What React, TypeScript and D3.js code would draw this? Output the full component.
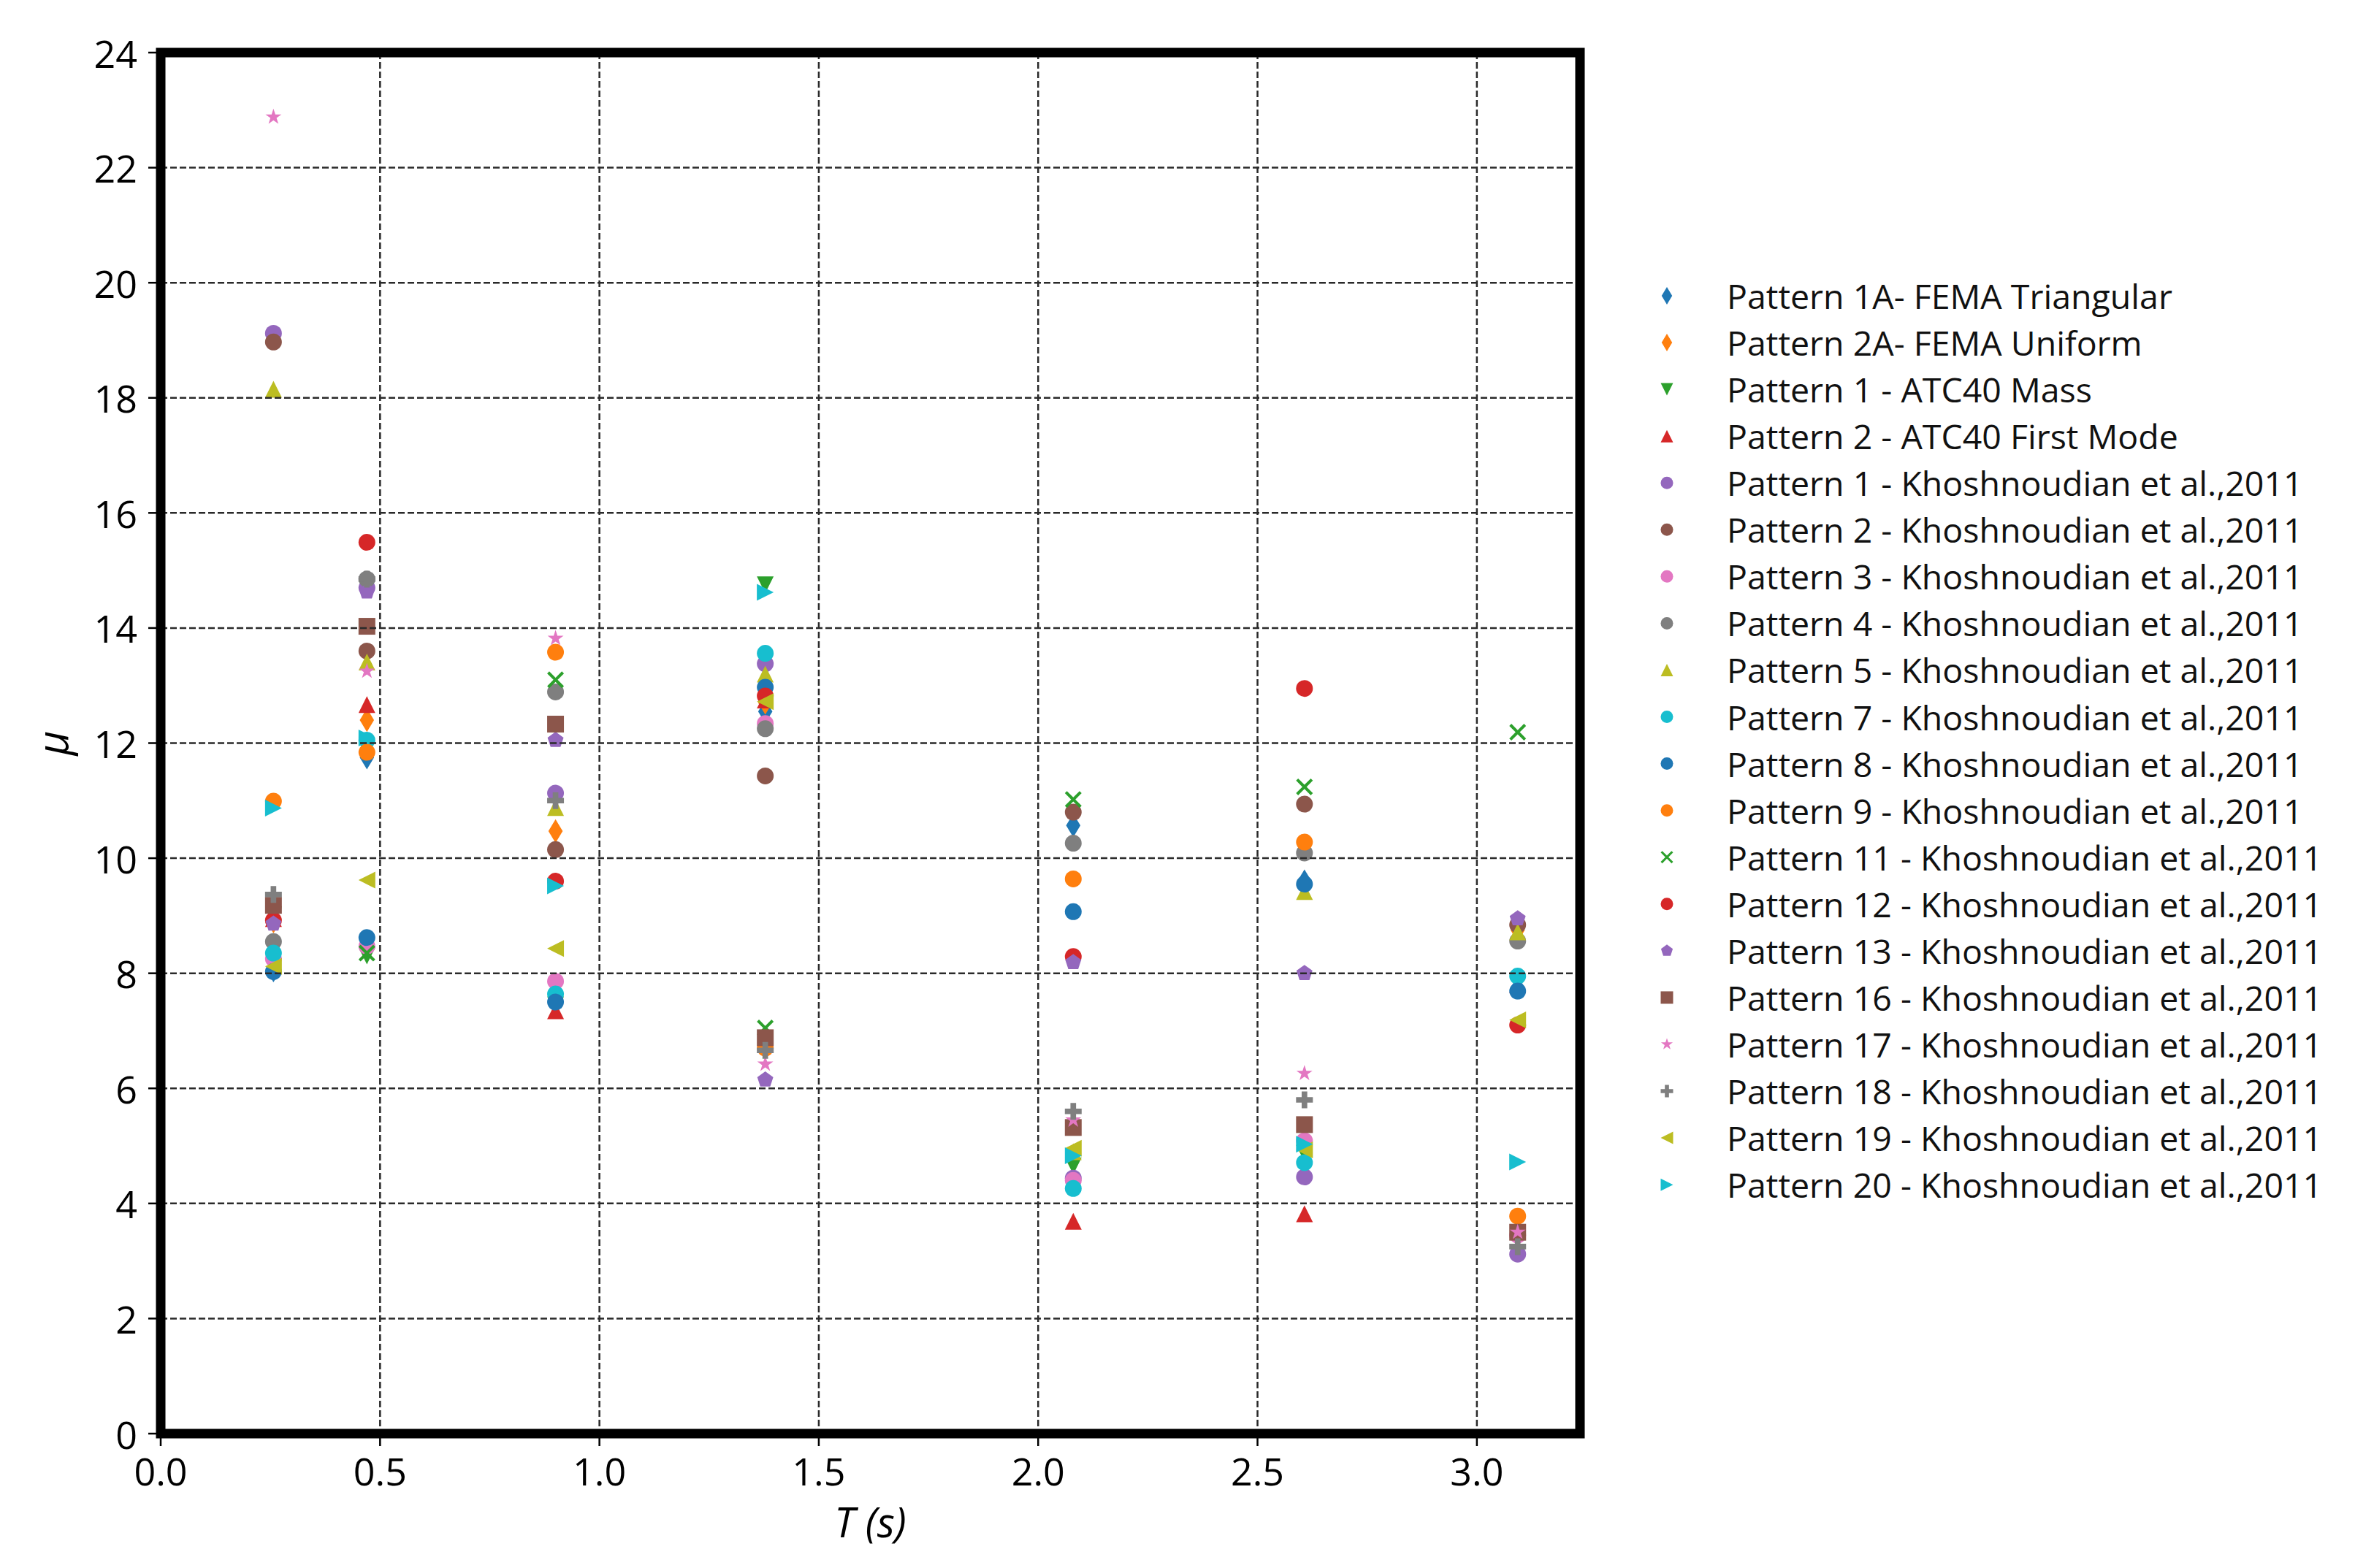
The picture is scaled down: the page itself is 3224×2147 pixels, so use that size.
import React from "react";
import * as d3 from "d3";

// ---------- DATA ----------
const periods = [0.257, 0.47, 0.9, 1.378, 2.08, 2.607, 3.093];

const seriesNames = [
  "Pattern 1A- FEMA Triangular",
  "Pattern 2A- FEMA Uniform",
  "Pattern 1 - ATC40 Mass",
  "Pattern 2 - ATC40 First Mode",
  "Pattern 1 - Khoshnoudian et al.,2011",
  "Pattern 2 - Khoshnoudian et al.,2011",
  "Pattern 3 - Khoshnoudian et al.,2011",
  "Pattern 4 - Khoshnoudian et al.,2011",
  "Pattern 5 - Khoshnoudian et al.,2011",
  "Pattern 7 - Khoshnoudian et al.,2011",
  "Pattern 8 - Khoshnoudian et al.,2011",
  "Pattern 9 - Khoshnoudian et al.,2011",
  "Pattern 11 - Khoshnoudian et al.,2011",
  "Pattern 12 - Khoshnoudian et al.,2011",
  "Pattern 13 - Khoshnoudian et al.,2011",
  "Pattern 16 - Khoshnoudian et al.,2011",
  "Pattern 17 - Khoshnoudian et al.,2011",
  "Pattern 18 - Khoshnoudian et al.,2011",
  "Pattern 19 - Khoshnoudian et al.,2011",
  "Pattern 20 - Khoshnoudian et al.,2011",
];

const seriesColors = [
  "#1f77b4", "#ff7f0e", "#2ca02c", "#d62728", "#9467bd",
  "#8c564b", "#e377c2", "#7f7f7f", "#bcbd22", "#17becf",
  "#1f77b4", "#ff7f0e", "#2ca02c", "#d62728", "#9467bd",
  "#8c564b", "#e377c2", "#7f7f7f", "#bcbd22", "#17becf",
];

const seriesMarkers = [
  "thin_diamond", "thin_diamond", "triangle_down", "triangle_up", "circle",
  "circle", "circle", "circle", "triangle_up", "circle",
  "circle", "circle", "x_filled", "circle", "pentagon",
  "square", "star", "plus_filled", "triangle_left", "triangle_right",
];

const p1aFemaTri = [8.05, 11.75, 7.55, 12.55, 10.57, 9.6, 7.75];
const p2aFemaUni = [8.9, 12.4, 10.47, 12.7, 4.78, 4.98, 8.75];
const p1AtcMass = [9.0, 8.3, 7.45, 14.75, 4.65, 4.87, 7.85];
const p2AtcFirst = [8.95, 12.67, 7.35, 12.75, 3.69, 3.82, 7.8];
const k1 = [19.12, 14.7, 11.13, 13.38, 4.44, 4.46, 3.12];
const k2 = [18.97, 13.6, 10.15, 11.43, 10.8, 10.94, 8.84];
const k3 = [8.25, 8.47, 7.86, 12.34, 4.4, 5.09, 3.45];
const k4 = [8.55, 14.85, 12.89, 12.25, 10.26, 10.09, 8.56];
const k5 = [18.15, 13.41, 10.88, 13.2, 4.9, 9.42, 8.72];
const k7 = [8.35, 12.05, 7.64, 13.56, 4.26, 4.71, 7.95];
const k8 = [8.03, 8.62, 7.5, 12.97, 9.07, 9.55, 7.69];
const k9 = [10.99, 11.84, 13.58, 6.7, 9.64, 10.28, 3.78];
const k11 = [9.05, 8.35, 13.1, 7.05, 11.02, 11.24, 12.19];
const k12 = [8.92, 15.49, 9.6, 12.82, 8.29, 12.95, 7.1];
const k13 = [8.86, 14.63, 12.05, 6.15, 8.19, 8.0, 8.95];
const k16 = [9.18, 14.03, 12.33, 6.88, 5.32, 5.37, 3.5];
const k17 = [22.88, 13.25, 13.82, 6.42, 5.45, 6.26, 3.5];
const k18 = [9.37, 14.85, 11.0, 6.66, 5.6, 5.8, 3.25];
const k19 = [8.12, 9.62, 8.43, 12.72, 4.96, 4.93, 7.19];
const k20 = [10.87, 12.09, 9.52, 14.62, 4.83, 5.03, 4.72];

const seriesValues = [
  p1aFemaTri, p2aFemaUni, p1AtcMass, p2AtcFirst, k1, k2, k3, k4, k5, k7,
  k8, k9, k11, k12, k13, k16, k17, k18, k19, k20,
];

const xTicks = [0, 0.5, 1.0, 1.5, 2.0, 2.5, 3.0];
const yTicks = [0, 2, 4, 6, 8, 10, 12, 14, 16, 18, 20, 22, 24];

// ---------- LAYOUT ----------
const W = 3224;
const H = 2147;
const left = 220;
const right = 2163;
const top = 72;
const bottom = 1963;
const FONT = "'Open Sans', 'DejaVu Sans', sans-serif";

const x = d3.scaleLinear().domain([0, 3.235]).range([left, right]);
const y = d3.scaleLinear().domain([0, 24]).range([bottom, top]);

function poly(pts: number[][]): string {
  return "M" + pts.map((p) => `${p[0].toFixed(2)},${p[1].toFixed(2)}`).join("L") + "Z";
}

function markerPath(m: string, s: number): string {
  switch (m) {
    case "circle":
      return `M${s},0A${s},${s} 0 1,1 ${-s},0A${s},${s} 0 1,1 ${s},0Z`;
    case "thin_diamond":
      return poly([[0, -1.41 * s], [0.85 * s, 0], [0, 1.41 * s], [-0.85 * s, 0]]);
    case "triangle_up":
      return poly([[0, -s], [s, s], [-s, s]]);
    case "triangle_down":
      return poly([[0, s], [s, -s], [-s, -s]]);
    case "triangle_left":
      return poly([[-s, 0], [s, -s], [s, s]]);
    case "triangle_right":
      return poly([[s, 0], [-s, -s], [-s, s]]);
    case "square":
      return poly([[-s, -s], [s, -s], [s, s], [-s, s]]);
    case "pentagon": {
      const pts: number[][] = [];
      for (let i = 0; i < 5; i++) {
        const a = -Math.PI / 2 + (i * 2 * Math.PI) / 5;
        pts.push([s * Math.cos(a), s * Math.sin(a)]);
      }
      return poly(pts);
    }
    case "star": {
      const pts: number[][] = [];
      for (let i = 0; i < 10; i++) {
        const r = i % 2 === 0 ? s : s * 0.381966;
        const a = -Math.PI / 2 + (i * Math.PI) / 5;
        pts.push([r * Math.cos(a), r * Math.sin(a)]);
      }
      return poly(pts);
    }
    case "plus_filled": {
      const t = s / 3;
      return poly([
        [-t, -s], [t, -s], [t, -t], [s, -t], [s, t], [t, t],
        [t, s], [-t, s], [-t, t], [-s, t], [-s, -t], [-t, -t],
      ]);
    }
    case "x_filled": {
      const base = [
        [0.25, 0], [1, 0.75], [0.75, 1], [0, 0.25], [-0.75, 1], [-1, 0.75],
        [-0.25, 0], [-1, -0.75], [-0.75, -1], [0, -0.25], [0.75, -1], [1, -0.75],
      ];
      return poly(base.map((p) => [p[0] * s, p[1] * s]));
    }
    default:
      return "";
  }
}

const PLOT_S = 11.5;
const LEG_S = 8.5;
const legendX = 2282;
const legendTextX = 2364;
const legendY0 = 405;
const legendDy = 64.06;

export default function App() {
  const gridColor = "#2a2a2a";
  return (
    <svg
      width={W}
      height={H}
      viewBox={`0 0 ${W} ${H}`}
      style={{ position: "absolute", left: 0, top: 0, background: "#ffffff" }}
      xmlns="http://www.w3.org/2000/svg"
    >
      <rect x={0} y={0} width={W} height={H} fill="#ffffff" />

      {/* markers */}
      <g>
        {seriesValues.map((vals, si) => (
          <g key={si} fill={seriesColors[si]}>
            {vals.map((v, pi) => (
              <path
                key={pi}
                d={markerPath(seriesMarkers[si], PLOT_S)}
                transform={`translate(${x(periods[pi])},${y(v)})`}
              />
            ))}
          </g>
        ))}
      </g>

      {/* grid (drawn above markers, as matplotlib does) */}
      <g stroke={gridColor} strokeWidth={2.5} strokeDasharray="9,4" fill="none">
        {xTicks.filter((t) => t > 0).map((t) => (
          <line key={"gx" + t} x1={x(t)} x2={x(t)} y1={top} y2={bottom} />
        ))}
        {yTicks.filter((t) => t > 0 && t < 24).map((t) => (
          <line key={"gy" + t} x1={left} x2={right} y1={y(t)} y2={y(t)} />
        ))}
      </g>

      {/* ticks */}
      <g stroke="#000" strokeWidth={2.5}>
        {xTicks.map((t) => (
          <line key={"tx" + t} x1={x(t)} x2={x(t)} y1={bottom} y2={bottom + 17} />
        ))}
        {yTicks.map((t) => (
          <line key={"ty" + t} x1={left - 17} x2={left} y1={y(t)} y2={y(t)} />
        ))}
      </g>

      {/* spines */}
      <rect
        x={left}
        y={top}
        width={right - left}
        height={bottom - top}
        fill="none"
        stroke="#000"
        strokeWidth={13}
      />

      {/* tick labels */}
      <g fontFamily={FONT} fontSize={52} fill="#000">
        {xTicks.map((t) => (
          <text key={"lx" + t} x={x(t)} y={bottom + 50} textAnchor="middle" dominantBaseline="central">
            {t.toFixed(1)}
          </text>
        ))}
        {yTicks.map((t) => (
          <text key={"ly" + t} x={left - 32} y={y(t)} textAnchor="end" dominantBaseline="central">
            {t}
          </text>
        ))}
      </g>

      {/* axis labels */}
      <text
        x={(left + right) / 2}
        y={2083}
        textAnchor="middle"
        dominantBaseline="central"
        fontFamily={FONT}
        fontStyle="italic"
        fontSize={56}
        fill="#000"
      >
        T (s)
      </text>
      <text
        transform={`translate(70,${(top + bottom) / 2}) rotate(-90)`}
        textAnchor="middle"
        dominantBaseline="central"
        fontFamily={FONT}
        fontStyle="italic"
        fontSize={58}
        fill="#000"
      >
        μ
      </text>

      {/* legend */}
      <g>
        {seriesNames.map((name, i) => {
          const ly = legendY0 + i * legendDy;
          return (
            <g key={"leg" + i}>
              <path
                d={markerPath(seriesMarkers[i], LEG_S)}
                transform={`translate(${legendX},${ly})`}
                fill={seriesColors[i]}
              />
              <text
                x={legendTextX}
                y={ly}
                dominantBaseline="central"
                fontFamily={FONT}
                fontSize={46.5}
                fill="#111"
              >
                {name}
              </text>
            </g>
          );
        })}
      </g>
    </svg>
  );
}
